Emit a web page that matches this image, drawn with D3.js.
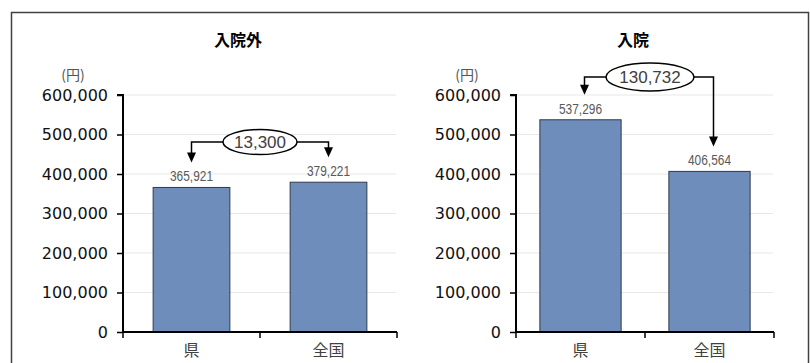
<!DOCTYPE html>
<html>
<head>
<meta charset="utf-8">
<script src="https://cdn.jsdelivr.net/npm/d3@7"></script>
<style>
  body { margin: 0; background: #fff; }
  svg { display: block; }
</style>
</head>
<body>
<div id="app"></div>
<script>
// data
const categories = ["県", "全国"];
const panelTitles = ["入院外", "入院"];
const outpatientValues = [365921, 379221];
const inpatientValues = [537296, 406564];
const yTicks = [0, 100000, 200000, 300000, 400000, 500000, 600000];
const unitLabel = "(円)";

const W = 810, H = 363;
const fmt = d3.format(",");

const svg = d3.select("#app")
    .append("svg")
    .attr("width", W)
    .attr("height", H);

// outer frame
svg.append("rect")
    .attr("x", 11.5).attr("y", 12.5)
    .attr("width", 797).attr("height", 400)
    .attr("fill", "none")
    .attr("stroke", "#404040")
    .attr("stroke-width", 1.5);

const panels = [
    { title: panelTitles[0], values: outpatientValues, x0: 123, x1: 397, pad: 0.44,
      titleX: 238, unitX: 73, ell: { cx: 260, cy: 142, rx: 37, ry: 12.5 }, off: 0 },
    { title: panelTitles[1], values: inpatientValues, x0: 516, x1: 774, pad: 0.37,
      titleX: 633, unitX: 467, ell: { cx: 650, cy: 77, rx: 44, ry: 14 }, off: 4 }
];

const y = d3.scaleLinear().domain([0, 600000]).range([332, 95]);

panels.forEach(p => {
    const g = svg.append("g");

    const x = d3.scaleBand()
        .domain(categories)
        .range([p.x0, p.x1])
        .paddingInner(p.pad)
        .paddingOuter(p.pad / 2);

    // gridlines
    g.selectAll("line.grid")
        .data(yTicks.filter(d => d > 0))
        .join("line")
        .attr("class", "grid")
        .attr("x1", p.x0).attr("x2", p.x1 - 1)
        .attr("y1", d => y(d)).attr("y2", d => y(d))
        .attr("stroke", "#e8e8e8")
        .attr("stroke-width", 1.2);

    // bars
    g.selectAll("rect.bar")
        .data(p.values)
        .join("rect")
        .attr("class", "bar")
        .attr("x", (d, i) => x(categories[i]))
        .attr("y", d => y(d))
        .attr("width", x.bandwidth())
        .attr("height", d => y(0) - y(d))
        .attr("fill", "#6e8dbb")
        .attr("stroke", "#2f3b4c")
        .attr("stroke-width", 1);

    // value labels
    g.selectAll("text.val")
        .data(p.values)
        .join("text")
        .attr("class", "val")
        .attr("x", (d, i) => x(categories[i]) + x.bandwidth() / 2)
        .attr("y", d => y(d) - 6)
        .attr("text-anchor", "middle")
        .attr("font-family", "Liberation Sans, Arial, sans-serif")
        .attr("font-size", 14)
        .attr("textLength", 43)
        .attr("lengthAdjust", "spacingAndGlyphs")
        .attr("fill", "#595959")
        .text(d => fmt(d));

    // y axis
    const yAxis = g.append("g")
        .attr("transform", `translate(${p.x0},0)`)
        .call(d3.axisLeft(y).tickValues(yTicks).tickSize(6).tickPadding(9).tickFormat(fmt));
    yAxis.select(".domain").attr("stroke", "#000").attr("stroke-width", 2).attr("d", `M-6,${y(600000)}H0V${y(0)}`);
    yAxis.selectAll(".tick line").attr("stroke", "#000").attr("stroke-width", 1.5);
    yAxis.selectAll(".tick text")
        .attr("font-family", "DejaVu Sans, Verdana, sans-serif")
        .attr("font-size", 16)
        .attr("fill", "#111");

    // x axis
    const xAxis = g.append("g")
        .attr("transform", `translate(0,${y(0)})`)
        .call(d3.axisBottom(x).tickSize(0).tickPadding(13));
    xAxis.select(".domain").attr("stroke", "#000").attr("stroke-width", 2)
        .attr("d", `M${p.x0},0H${p.x1}`);
    xAxis.selectAll(".tick text")
        .attr("font-family", "Noto Sans CJK JP, sans-serif")
        .attr("font-size", 16)
        .attr("fill", "#404040");
    // boundary ticks between categories
    const bounds = [p.x0, (p.x0 + p.x1) / 2, p.x1];
    xAxis.selectAll("line.bt")
        .data(bounds)
        .join("line")
        .attr("class", "bt")
        .attr("x1", d => d).attr("x2", d => d)
        .attr("y1", 0).attr("y2", 6)
        .attr("stroke", "#000")
        .attr("stroke-width", 1.5);

    // title
    g.append("text")
        .attr("x", p.titleX).attr("y", 46)
        .attr("text-anchor", "middle")
        .attr("font-family", "Noto Sans CJK JP, sans-serif")
        .attr("font-weight", "bold")
        .attr("font-size", 16)
        .attr("fill", "#000")
        .text(p.title);

    // unit
    g.append("text")
        .attr("x", p.unitX).attr("y", 80)
        .attr("text-anchor", "middle")
        .attr("font-family", "Noto Sans CJK JP, sans-serif")
        .attr("font-size", 14)
        .attr("fill", "#555")
        .text(unitLabel);

    // difference annotation
    const diff = Math.abs(p.values[0] - p.values[1]);
    const e = p.ell;
    const ends = p.values.map((v, i) => ({
        x: x(categories[i]) + x.bandwidth() / 2 + p.off,
        tip: y(v) - 25
    }));

    ends.forEach((c, i) => {
        const sx = i === 0 ? e.cx - e.rx : e.cx + e.rx;
        g.append("path")
            .attr("d", `M${sx},${e.cy}H${c.x}V${c.tip - 8}`)
            .attr("fill", "none")
            .attr("stroke", "#000")
            .attr("stroke-width", 1.5);
        g.append("path")
            .attr("d", `M${c.x - 4.5},${c.tip - 10}L${c.x + 4.5},${c.tip - 10}L${c.x},${c.tip}Z`)
            .attr("fill", "#000");
    });

    g.append("ellipse")
        .attr("cx", e.cx).attr("cy", e.cy)
        .attr("rx", e.rx).attr("ry", e.ry)
        .attr("fill", "#fff")
        .attr("stroke", "#000")
        .attr("stroke-width", 1.5);
    g.append("text")
        .attr("x", e.cx).attr("y", e.cy + 6)
        .attr("text-anchor", "middle")
        .attr("font-family", "Liberation Sans, Arial, sans-serif")
        .attr("font-size", 17)
        .attr("fill", "#404040")
        .text(fmt(diff));
});
</script>
</body>
</html>
